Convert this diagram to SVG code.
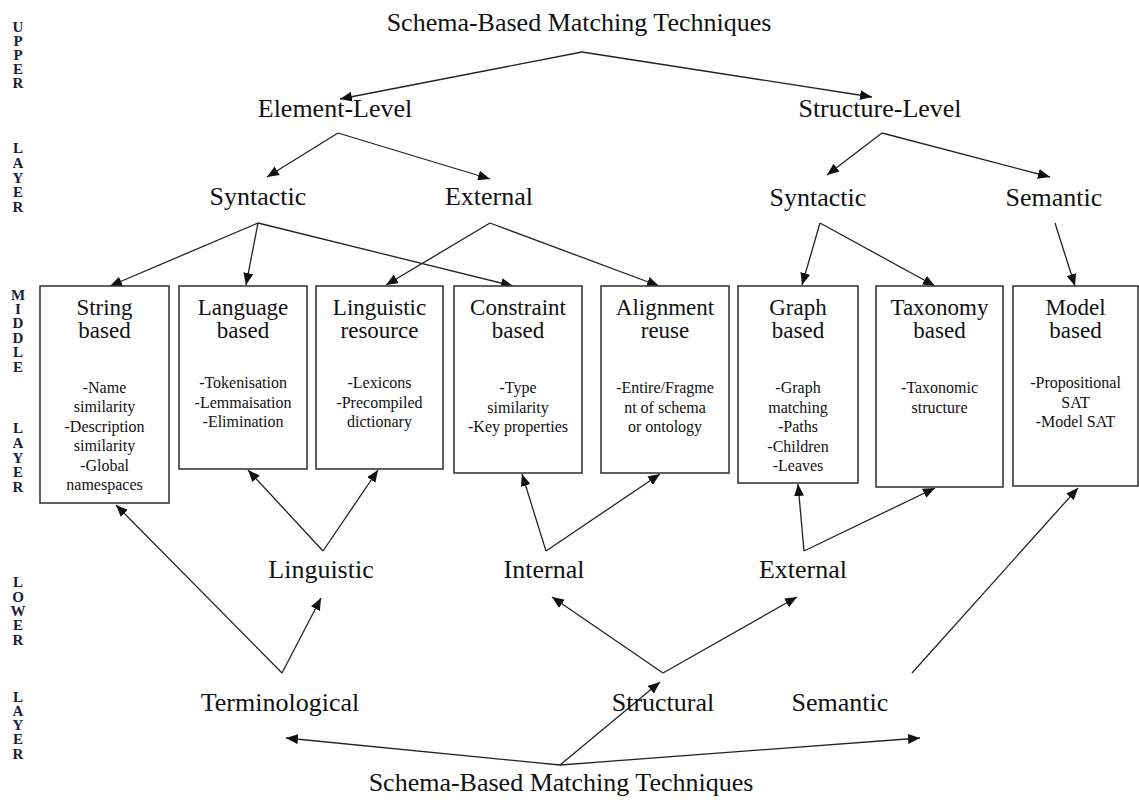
<svg xmlns="http://www.w3.org/2000/svg" width="1139" height="803" viewBox="0 0 1139 803">
  <defs>
    <marker id="arrow" viewBox="0 0 12 10" refX="12" refY="5" markerWidth="12" markerHeight="10" markerUnits="userSpaceOnUse" orient="auto">
      <path d="M0,0 L12,5 L0,10 Z" fill="#111"/>
    </marker>
    <style>
      text { font-family: "Liberation Serif", "Times New Roman", serif; fill: #111; text-anchor: middle; }
      .title { font-size: 26px; }
      .label { font-size: 26px; }
      .boxtitle { font-size: 23px; }
      .body { font-size: 16px; }
      .side { font-size: 15px; font-weight: bold; fill: #1c1c3a; }
      .box { fill: #fff; stroke: #3a3a3a; stroke-width: 1.6; }
      .edge { fill: none; stroke: #222; stroke-width: 1.3; marker-end: url(#arrow); }
    </style>
  </defs>
  <rect width="1139" height="803" fill="#fff"/>

  <!-- layer captions down the left margin -->
  <g id="layer-captions">
    <text class="side" x="18" y="32">U</text>
    <text class="side" x="18" y="46">P</text>
    <text class="side" x="18" y="60">P</text>
    <text class="side" x="18" y="74">E</text>
    <text class="side" x="18" y="88">R</text>
    <text class="side" x="18" y="153">L</text>
    <text class="side" x="18" y="168">A</text>
    <text class="side" x="18" y="183">Y</text>
    <text class="side" x="18" y="197">E</text>
    <text class="side" x="18" y="212">R</text>
    <text class="side" x="18" y="300">M</text>
    <text class="side" x="18" y="314">I</text>
    <text class="side" x="18" y="328">D</text>
    <text class="side" x="18" y="343">D</text>
    <text class="side" x="18" y="357">L</text>
    <text class="side" x="18" y="372">E</text>
    <text class="side" x="18" y="433">L</text>
    <text class="side" x="18" y="448">A</text>
    <text class="side" x="18" y="463">Y</text>
    <text class="side" x="18" y="477">E</text>
    <text class="side" x="18" y="492">R</text>
    <text class="side" x="18" y="587">L</text>
    <text class="side" x="18" y="602">O</text>
    <text class="side" x="18" y="616">W</text>
    <text class="side" x="18" y="630">E</text>
    <text class="side" x="18" y="645">R</text>
    <text class="side" x="18" y="702">L</text>
    <text class="side" x="18" y="716">A</text>
    <text class="side" x="18" y="730">Y</text>
    <text class="side" x="18" y="744">E</text>
    <text class="side" x="18" y="759">R</text>
  </g>

  <!-- connectors -->
  <g id="connectors">
    <!-- upper layer -->
    <polyline class="edge" points="582,52 340,99"/>
    <polyline class="edge" points="582,52 872,97"/>
    <polyline class="edge" points="338,133 267,177"/>
    <polyline class="edge" points="338,133 490,179"/>
    <polyline class="edge" points="882,133 827,175"/>
    <polyline class="edge" points="882,133 1050,177"/>
    <polyline class="edge" points="258,223 110,286"/>
    <polyline class="edge" points="258,223 246,285"/>
    <polyline class="edge" points="258,223 513,286"/>
    <polyline class="edge" points="490,223 386,285"/>
    <polyline class="edge" points="490,223 659,286"/>
    <polyline class="edge" points="820,223 802,285"/>
    <polyline class="edge" points="820,223 935,286"/>
    <polyline class="edge" points="1055,223 1075,286"/>
    <!-- lower layer -->
    <polyline class="edge" points="323,551 248,470"/>
    <polyline class="edge" points="323,551 378,470"/>
    <polyline class="edge" points="546,551 522,474"/>
    <polyline class="edge" points="546,551 660,474"/>
    <polyline class="edge" points="804,551 798,484"/>
    <polyline class="edge" points="804,551 935,488"/>
    <polyline class="edge" points="282,673 116,505"/>
    <polyline class="edge" points="282,673 321,598"/>
    <polyline class="edge" points="663,673 552,597"/>
    <polyline class="edge" points="663,673 797,597"/>
    <polyline class="edge" points="912,673 1078,488"/>
    <polyline class="edge" points="560,765 286,738"/>
    <polyline class="edge" points="560,765 660,682"/>
    <polyline class="edge" points="560,765 920,738"/>
  </g>

  <!-- upper layer labels -->
  <g id="top-root"><text class="title" x="579" y="31">Schema-Based Matching Techniques</text></g>
  <g id="element-level"><text class="label" x="335" y="117">Element-Level</text></g>
  <g id="structure-level"><text class="label" x="880" y="117">Structure-Level</text></g>
  <g id="element-syntactic"><text class="label" x="258" y="205">Syntactic</text></g>
  <g id="element-external"><text class="label" x="489" y="205">External</text></g>
  <g id="structure-syntactic"><text class="label" x="818" y="206">Syntactic</text></g>
  <g id="structure-semantic"><text class="label" x="1054" y="206">Semantic</text></g>

  <!-- middle layer: basic techniques -->
  <g id="string-based">
    <rect class="box" x="40" y="286" width="129" height="217"/>
    <text class="boxtitle" x="104.5" y="315">String</text>
    <text class="boxtitle" x="104.5" y="338">based</text>
    <text class="body" x="104.5" y="393">-Name</text>
    <text class="body" x="104.5" y="412.4">similarity</text>
    <text class="body" x="104.5" y="431.8">-Description</text>
    <text class="body" x="104.5" y="451.2">similarity</text>
    <text class="body" x="104.5" y="470.6">-Global</text>
    <text class="body" x="104.5" y="490">namespaces</text>
  </g>
  <g id="language-based">
    <rect class="box" x="179" y="286" width="128" height="183"/>
    <text class="boxtitle" x="243" y="315">Language</text>
    <text class="boxtitle" x="243" y="338">based</text>
    <text class="body" x="243" y="388">-Tokenisation</text>
    <text class="body" x="243" y="407.5">-Lemmaisation</text>
    <text class="body" x="243" y="427">-Elimination</text>
  </g>
  <g id="linguistic-resource">
    <rect class="box" x="316" y="286" width="127" height="183"/>
    <text class="boxtitle" x="379.5" y="315">Linguistic</text>
    <text class="boxtitle" x="379.5" y="338">resource</text>
    <text class="body" x="379.5" y="388">-Lexicons</text>
    <text class="body" x="379.5" y="407.5">-Precompiled</text>
    <text class="body" x="379.5" y="427">dictionary</text>
  </g>
  <g id="constraint-based">
    <rect class="box" x="454" y="286" width="128" height="187"/>
    <text class="boxtitle" x="518" y="315">Constraint</text>
    <text class="boxtitle" x="518" y="338">based</text>
    <text class="body" x="518" y="393">-Type</text>
    <text class="body" x="518" y="412.5">similarity</text>
    <text class="body" x="518" y="432">-Key properties</text>
  </g>
  <g id="alignment-reuse">
    <rect class="box" x="601" y="286" width="128" height="187"/>
    <text class="boxtitle" x="665" y="315">Alignment</text>
    <text class="boxtitle" x="665" y="338">reuse</text>
    <text class="body" x="665" y="393">-Entire/Fragme</text>
    <text class="body" x="665" y="412.5">nt of schema</text>
    <text class="body" x="665" y="432">or ontology</text>
  </g>
  <g id="graph-based">
    <rect class="box" x="738" y="286" width="120" height="197"/>
    <text class="boxtitle" x="798" y="315">Graph</text>
    <text class="boxtitle" x="798" y="338">based</text>
    <text class="body" x="798" y="393">-Graph</text>
    <text class="body" x="798" y="412.5">matching</text>
    <text class="body" x="798" y="432">-Paths</text>
    <text class="body" x="798" y="451.5">-Children</text>
    <text class="body" x="798" y="471">-Leaves</text>
  </g>
  <g id="taxonomy-based">
    <rect class="box" x="876" y="286" width="127" height="201"/>
    <text class="boxtitle" x="939.5" y="315">Taxonomy</text>
    <text class="boxtitle" x="939.5" y="338">based</text>
    <text class="body" x="939.5" y="393">-Taxonomic</text>
    <text class="body" x="939.5" y="412.5">structure</text>
  </g>
  <g id="model-based">
    <rect class="box" x="1013" y="286" width="125" height="200"/>
    <text class="boxtitle" x="1075.5" y="315">Model</text>
    <text class="boxtitle" x="1075.5" y="338">based</text>
    <text class="body" x="1075.5" y="388">-Propositional</text>
    <text class="body" x="1075.5" y="407.5">SAT</text>
    <text class="body" x="1075.5" y="427">-Model SAT</text>
  </g>

  <!-- lower layer labels -->
  <g id="linguistic"><text class="label" x="321" y="578">Linguistic</text></g>
  <g id="internal"><text class="label" x="544" y="578">Internal</text></g>
  <g id="external-lower"><text class="label" x="803" y="578">External</text></g>
  <g id="terminological"><text class="label" x="280" y="711">Terminological</text></g>
  <g id="structural"><text class="label" x="663" y="711">Structural</text></g>
  <g id="semantic-lower"><text class="label" x="840" y="711">Semantic</text></g>
  <g id="bottom-root"><text class="title" x="561" y="791">Schema-Based Matching Techniques</text></g>
</svg>
